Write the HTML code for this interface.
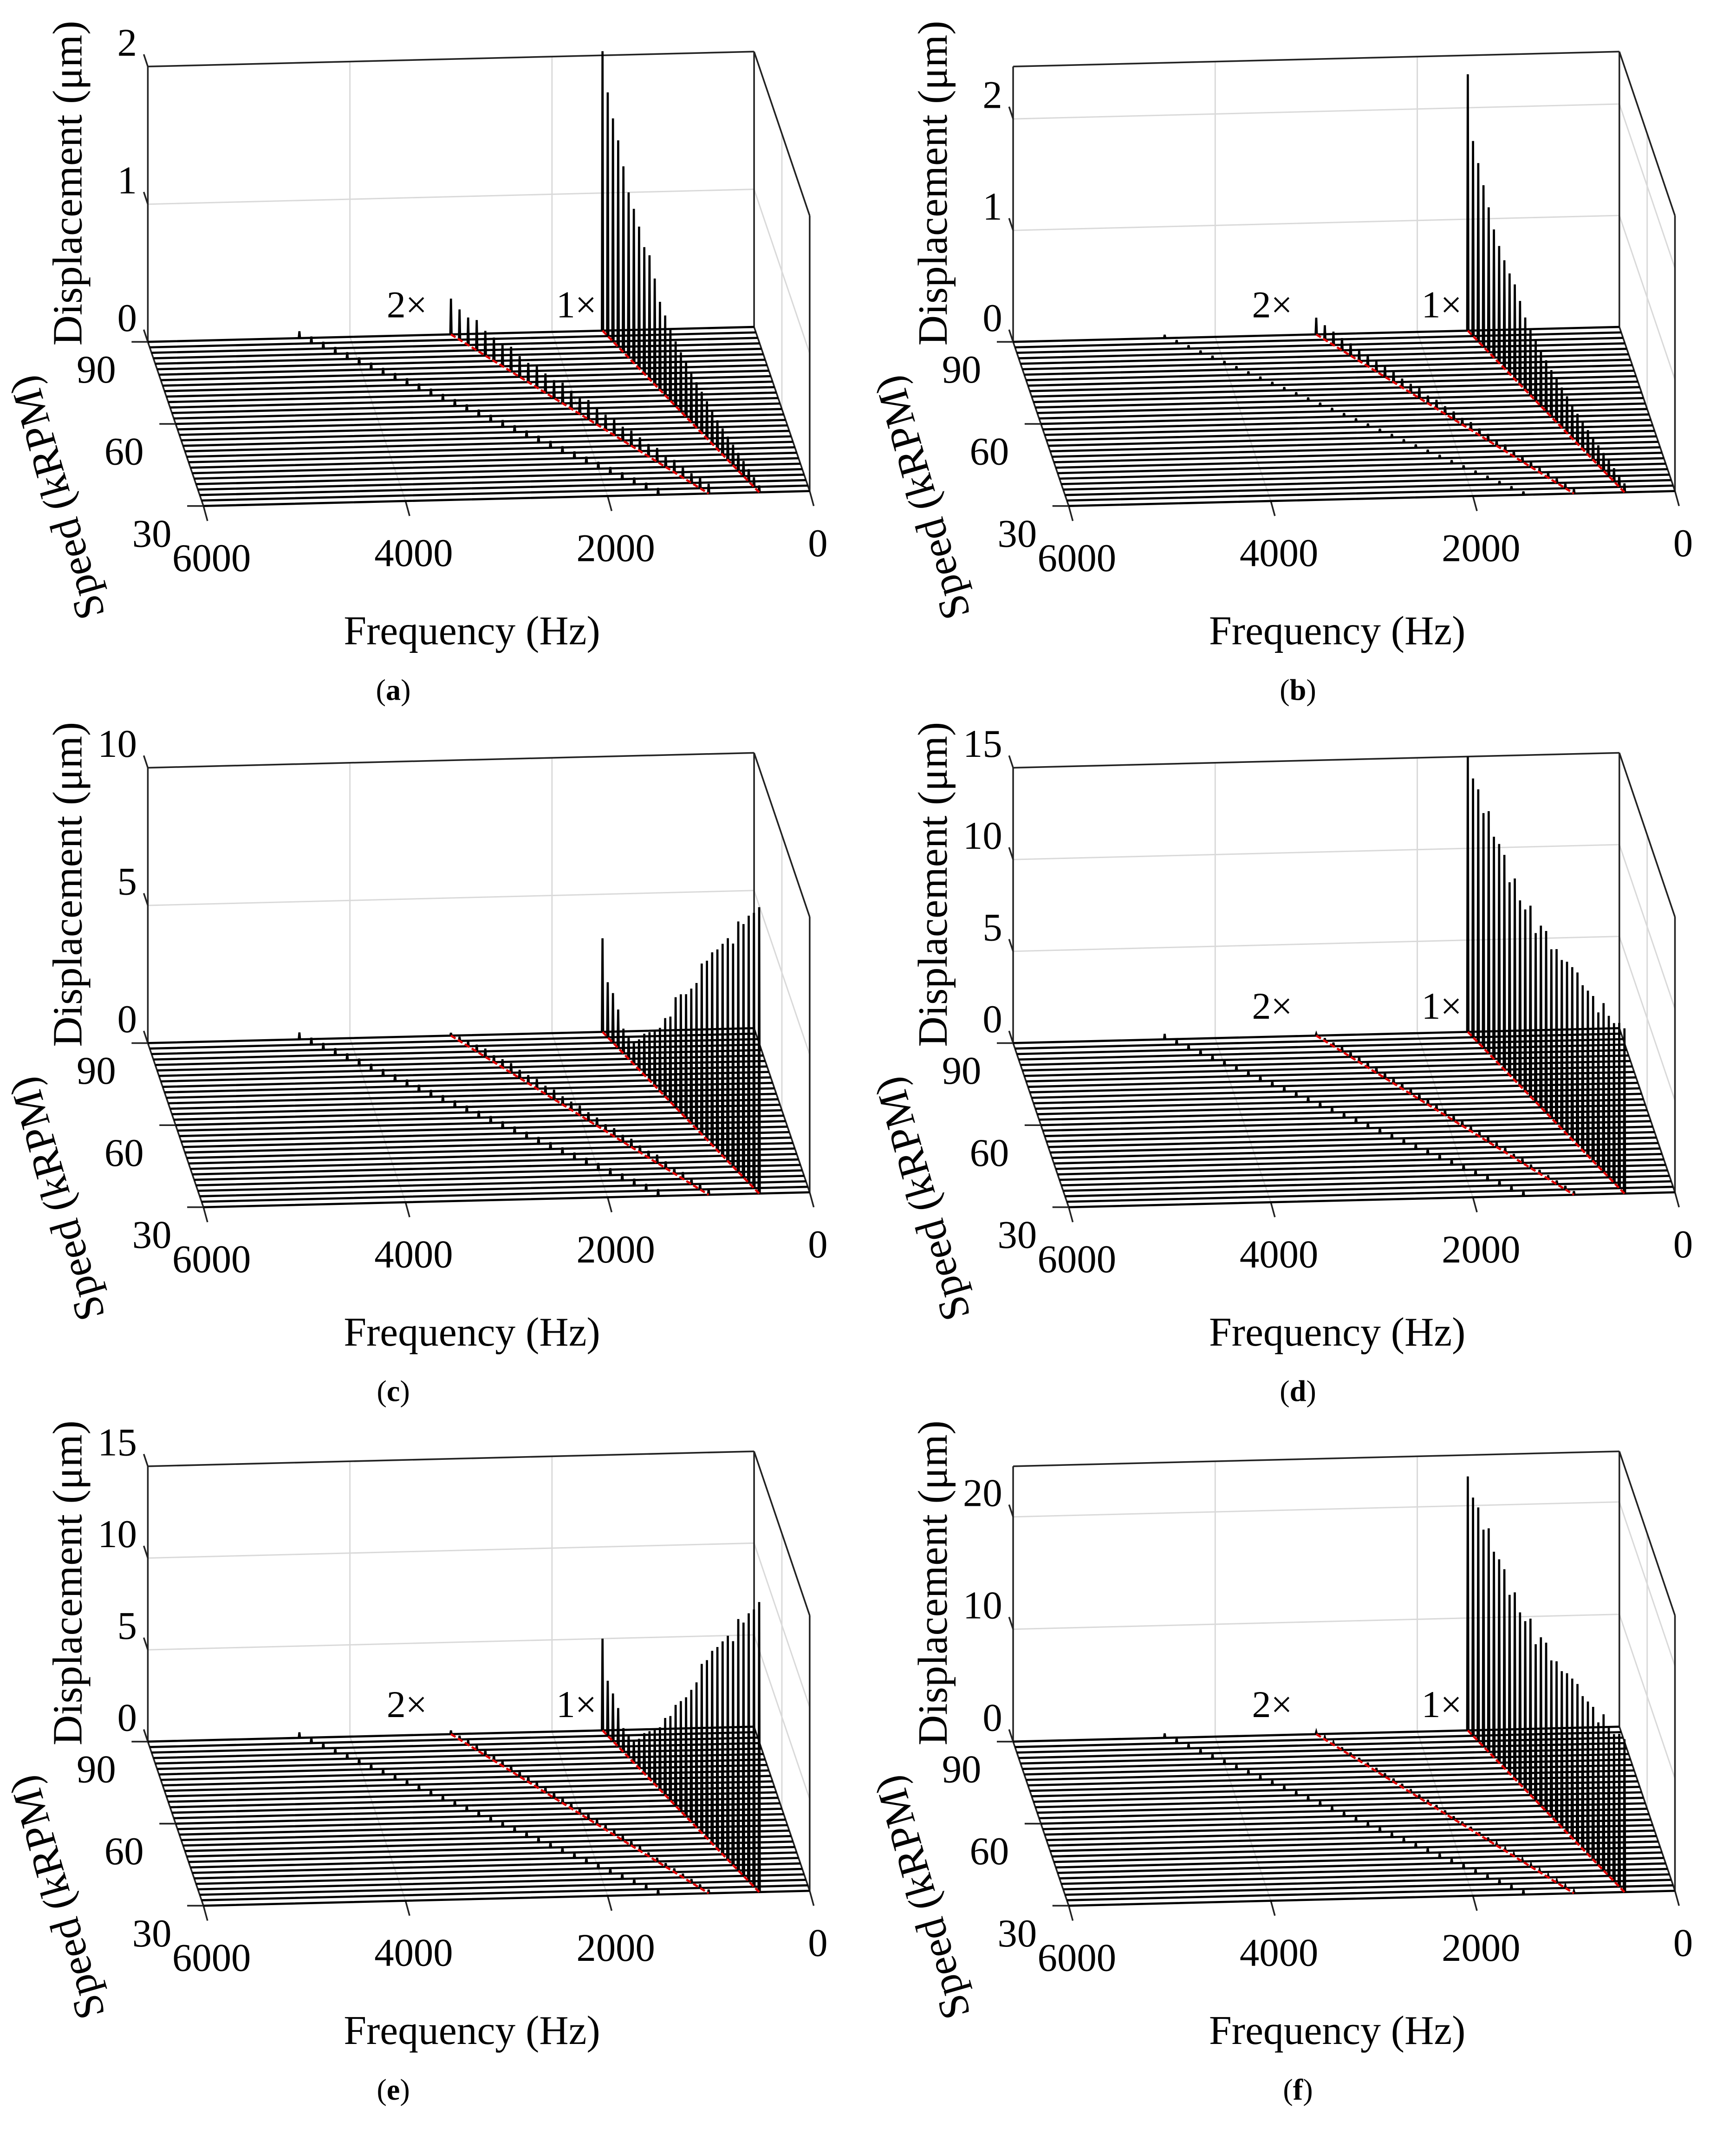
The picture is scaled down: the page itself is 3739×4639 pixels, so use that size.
<!DOCTYPE html>
<html><head><meta charset="utf-8"><title>Waterfall spectra</title>
<style>html,body{margin:0;padding:0;background:#fff}svg{display:block}text{font-family:"Liberation Serif",serif;fill:#000}</style>
</head><body>
<svg id="fig" xmlns="http://www.w3.org/2000/svg" width="3739" height="4639" viewBox="0 0 1280 1588"></svg>
<script>
// ---- data: speeds (kRPM), back (90) to front (30) ----
const speeds = [90,88,86,84,82,80,78,76,74,72,70,68,66,64,62,60,58,56,54,52,50,48,46,44,42,40,38,36,34,32,30];
const freqTicks = [6000,4000,2000,0];
const speedTicks = [90,60,30];
// 1x amplitudes (um)
const a1x = [2.03,1.77,1.62,1.5,1.35,1.2,1.12,1.03,0.92,0.9,0.77,0.64,0.58,0.52,0.47,0.43,0.4,0.36,0.33,0.3,0.27,0.24,0.21,0.19,0.17,0.15,0.13,0.11,0.09,0.07,0.05];
const b1x = [2.3,1.75,1.6,1.45,1.3,1.15,1.05,0.97,0.9,0.85,0.75,0.65,0.6,0.55,0.5,0.46,0.42,0.39,0.36,0.33,0.3,0.27,0.25,0.22,0.2,0.18,0.16,0.14,0.12,0.1,0.08];
const c1x = [3.4,2.0,1.8,1.4,0.9,0.8,0.8,1.1,1.5,1.75,2.0,2.3,2.85,3.1,4.0,4.3,4.5,4.9,5.3,6.2,6.5,7.0,7.3,7.7,8.1,8.1,9.1,9.2,9.7,10.0,10.4];
const d1x = [15.0,14.1,13.8,12.8,13.2,12.1,12.0,11.7,10.5,11.0,10.1,9.9,10.4,9.2,9.9,9.9,9.2,9.5,9.2,9.4,9.4,9.4,9.0,9.0,9.0,8.4,9.2,8.8,8.7,9.0,9.0];
const e1x = [5.0,3.0,2.6,2.1,1.3,1.2,1.2,1.6,2.2,2.6,3.0,3.4,4.2,4.6,5.5,6.0,6.5,7.2,7.9,9.2,9.7,10.5,11.0,11.6,12.2,12.2,13.7,13.8,14.6,15.1,15.8];
const f1x = [22.6,21.2,20.8,19.3,19.9,18.3,18.1,17.7,15.9,16.6,15.3,15.0,15.7,13.9,15.0,15.0,13.9,14.3,13.9,14.2,14.2,14.2,13.6,13.6,13.6,12.7,13.9,13.3,13.1,13.6,13.6];
// 2x amplitudes (um)
const a2x = [0.26,0.22,0.2,0.22,0.18,0.17,0.16,0.18,0.15,0.14,0.16,0.14,0.13,0.15,0.13,0.12,0.14,0.12,0.11,0.12,0.1,0.11,0.1,0.09,0.1,0.08,0.09,0.08,0.07,0.08,0.07];
const b2x = [0.15,0.13,0.12,0.11,0.11,0.1,0.1,0.09,0.09,0.1,0.08,0.08,0.09,0.07,0.08,0.07,0.07,0.06,0.07,0.06,0.06,0.05,0.06,0.05,0.05,0.05,0.04,0.05,0.04,0.04,0.04];
const c2x = [0.1,0.15,0.2,0.25,0.3,0.25,0.3,0.35,0.3,0.3,0.35,0.3,0.35,0.3,0.3,0.35,0.3,0.3,0.25,0.3,0.25,0.3,0.25,0.25,0.3,0.25,0.2,0.25,0.2,0.2,0.2];
const d2x = [0.1,0.15,0.2,0.25,0.3,0.3,0.3,0.35,0.3,0.3,0.35,0.3,0.3,0.3,0.3,0.3,0.25,0.3,0.25,0.25,0.3,0.25,0.25,0.2,0.25,0.2,0.2,0.2,0.2,0.2,0.2];
const e2x = [0.2,0.2,0.25,0.25,0.3,0.3,0.3,0.3,0.3,0.3,0.3,0.3,0.3,0.3,0.3,0.3,0.3,0.25,0.25,0.25,0.25,0.25,0.25,0.2,0.2,0.2,0.2,0.2,0.2,0.2,0.2];
const f2x = [0.2,0.2,0.2,0.25,0.25,0.25,0.3,0.3,0.3,0.3,0.3,0.3,0.3,0.3,0.3,0.3,0.25,0.25,0.25,0.25,0.25,0.2,0.2,0.2,0.2,0.2,0.2,0.2,0.2,0.2,0.2];
// small 3x level per panel (um)
const h3Levels = [0.05,0.03,0.25,0.3,0.3,0.4];
const zMaxes = [2,2.47,10,15,15,24.5];
const zTickSets = [[0,1,2],[0,1,2],[0,5,10],[0,5,10,15],[0,5,10,15],[0,10,20]];
const captions = ['a','b','c','d','e','f'];

const layout = [
 {ox:0,oy:0,cx:290,cy:508,lab:true},
 {ox:638,oy:0,cx:957,cy:508,lab:true},
 {ox:0,oy:517,cx:290,cy:1025,lab:false},
 {ox:638,oy:517,cx:957,cy:1025,lab:true},
 {ox:0,oy:1032,cx:290,cy:1540,lab:true},
 {ox:638,oy:1032,cx:957,cy:1540,lab:true}
];
const series1 = [a1x,b1x,c1x,d1x,e1x,f1x];
const series2 = [a2x,b2x,c2x,d2x,e2x,f2x];

const NS = 'http://www.w3.org/2000/svg';
const svg = document.getElementById('fig');
function mk(tag, attrs, parent){const e=document.createElementNS(NS,tag);for(const k in attrs)e.setAttribute(k,attrs[k]);(parent||svg).appendChild(e);return e;}

const H = 203;
layout.forEach((L,pi)=>{
  const zmax = zMaxes[pi];
  const g = mk('g',{});
  
  
  const P = (f,s,z)=>{const u=f/6000,v=(90-s)/60;return [L.ox+556-447*u+41*v, L.oy+241+11*u+121*v - z*H/zmax];};
  const line=(p,q,st,w,name,dash)=>{const e=mk('line',{x1:p[0].toFixed(2),y1:p[1].toFixed(2),x2:q[0].toFixed(2),y2:q[1].toFixed(2),stroke:st,'stroke-width':w},g);if(dash)e.setAttribute('stroke-dasharray',dash);return e;};
  const grey='#d9d9d9';
  [4000,2000].forEach(f=>{line(P(f,90,0),P(f,90,zmax),grey,1,'back-grid-x');line(P(f,90,0),P(f,30,0),grey,1,'floor-grid-x');});
  zTickSets[pi].forEach(z=>{line(P(6000,90,z),P(0,90,z),grey,1,'back-grid-z');line(P(0,90,z),P(0,30,z),grey,1,'side-grid-z');});
  line(P(6000,60,0),P(0,60,0),grey,1,'floor-grid-speed');
  line(P(0,60,0),P(0,60,zmax),grey,1,'side-grid-speed');
  const K='#222';
  line(P(6000,90,0),P(6000,90,zmax),K,1.2,'z-axis');
  line(P(6000,90,zmax),P(0,90,zmax),K,1.2,'box-top-back');
  line(P(0,90,0),P(0,90,zmax),K,1.2,'box-back-right');
  line(P(0,90,zmax),P(0,30,zmax),K,1.2,'box-top-right');
  line(P(0,30,0),P(0,30,zmax),K,1.2,'box-front-right');
  line(P(6000,90,0),P(6000,30,0),K,1.2,'speed-axis');
  line(P(6000,30,0),P(0,30,0),K,1.2,'frequency-axis');
  line(P(0,90,0),P(0,30,0),K,1.2,'floor-right-edge');
  zTickSets[pi].forEach(z=>{const p=P(6000,90,z);line(p,[p[0]-3,p[1]-9],K,1.2,'z-tick');
    const t=mk('text',{x:(L.ox+101).toFixed(1),y:(p[1]-8).toFixed(1),'font-size':29,'text-anchor':'end'},g);t.textContent=String(z);
    });
  speedTicks.forEach(s=>{const p=P(6000,s,0);line(p,[p[0]-12,p[1]],K,1.2,'speed-tick');
    const t=mk('text',{x:(p[0]-38).toFixed(1),y:(p[1]+30).toFixed(1),'font-size':29,'text-anchor':'middle'},g);t.textContent=String(s);
    });
  freqTicks.forEach(f=>{const p=P(f,30,0);line(p,[p[0]+3,p[1]+11],K,1.2,'frequency-tick');
    const t=mk('text',{x:(p[0]+6).toFixed(1),y:(p[1]+48).toFixed(1),'font-size':29,'text-anchor':'middle'},g);t.textContent=String(f);
    });
  const s1=series1[pi], s2=series2[pi], h3=h3Levels[pi];
  speeds.forEach((s,k)=>{
    const f1=s*1000/60;
    const spikes=[[f1,s1[k]],[2*f1,s2[k]],[3*f1,h3]].sort((a,b)=>a[0]-b[0]);
    const pts=[P(0,s,0)];
    spikes.forEach(([f,a])=>{const d=6;pts.push(P(f-d,s,0),P(f,s,a),P(f+d,s,0));});
    pts.push(P(6000,s,0));
    const pl=mk('polyline',{points:pts.map(p=>p[0].toFixed(2)+','+p[1].toFixed(2)).join(' '),fill:'none',stroke:'#000','stroke-width':1.6,'stroke-linejoin':'miter'},g);
    
    
  });
  line(P(90*1000/60,90,0),P(30*1000/60,30,0),'#e00000',1.6,'order-1x-line','4,2');
  line(P(2*90*1000/60,90,0),P(2*30*1000/60,30,0),'#e00000',1.6,'order-2x-line','4,2');
  if(L.lab){
    const t2=mk('text',{x:L.ox+300,y:L.oy+234,'font-size':28,'text-anchor':'middle'},g);t2.textContent='2×';
    
    const t1=mk('text',{x:L.ox+425,y:L.oy+234,'font-size':28,'text-anchor':'middle'},g);t1.textContent='1×';
    
  }
  const ty=mk('text',{x:0,y:0,'font-size':31,'text-anchor':'middle',transform:`translate(${L.ox+60},${L.oy+135}) rotate(-90)`},g);ty.textContent='Displacement (μm)';
  
  const ts=mk('text',{x:0,y:0,'font-size':31,'text-anchor':'middle',transform:`translate(${L.ox+52},${L.oy+364}) rotate(-106)`},g);ts.textContent='Speed (kRPM)';
  
  const tf=mk('text',{x:L.ox+348,y:L.oy+475,'font-size':30,'text-anchor':'middle'},g);tf.textContent='Frequency (Hz)';
  
  const tc=mk('text',{x:L.cx,y:L.cy+8,'font-size':22,'text-anchor':'middle'},g);
  
  const a=mk('tspan',{},tc);a.textContent='(';const b=mk('tspan',{'font-weight':'bold'},tc);b.textContent=captions[pi];const c=mk('tspan',{},tc);c.textContent=')';
});
</script>
</body></html>
